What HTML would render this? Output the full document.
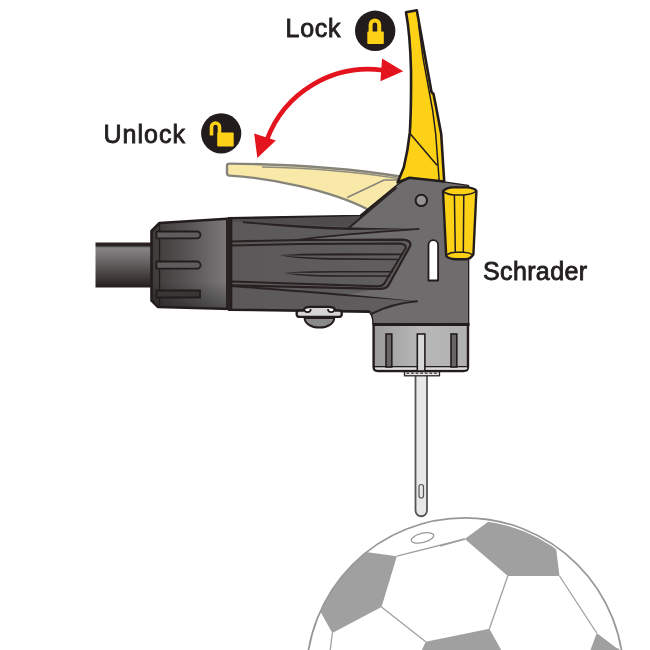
<!DOCTYPE html>
<html><head><meta charset="utf-8">
<style>
html,body{margin:0;padding:0;background:#fff;width:650px;height:650px;overflow:hidden}
svg{display:block;will-change:transform}
text{font-family:"Liberation Sans",sans-serif;fill:#231f20;stroke:#231f20;stroke-width:0.85}
</style></head>
<body>
<svg width="650" height="650" viewBox="0 0 650 650">
<defs>
<linearGradient id="hose" x1="0" y1="0" x2="0" y2="1">
<stop offset="0" stop-color="#2a2222"/><stop offset="0.07" stop-color="#2a2222"/><stop offset="0.12" stop-color="#878585"/><stop offset="0.55" stop-color="#595656"/><stop offset="1" stop-color="#251d1d"/>
</linearGradient>
<linearGradient id="collar" x1="0" y1="0" x2="1" y2="0">
<stop offset="0" stop-color="#3e3a3a"/><stop offset="0.45" stop-color="#555353"/><stop offset="1" stop-color="#7e7c7c"/>
</linearGradient>
<linearGradient id="collarv" x1="0" y1="0" x2="0" y2="1">
<stop offset="0" stop-color="#000" stop-opacity="0"/><stop offset="0.7" stop-color="#000" stop-opacity="0"/><stop offset="1" stop-color="#000" stop-opacity="0.35"/>
</linearGradient>
<linearGradient id="cap" x1="0" y1="0" x2="1" y2="0">
<stop offset="0" stop-color="#9a9a9a"/><stop offset="0.5" stop-color="#b8b8b8"/><stop offset="1" stop-color="#b0b0b0"/>
</linearGradient>
<linearGradient id="grip" x1="0" y1="0" x2="1" y2="0">
<stop offset="0" stop-color="#5a5858"/><stop offset="1" stop-color="#626060"/>
</linearGradient>
<filter id="soft" x="-10%" y="-10%" width="120%" height="120%"><feGaussianBlur stdDeviation="3"/></filter>
<clipPath id="ballclip"><circle cx="465" cy="676.5" r="156.6"/></clipPath>
<clipPath id="ballclip2"><circle cx="465" cy="676.5" r="158.3"/></clipPath>
</defs>

<!-- ball -->
<g clip-path="url(#ballclip2)">
<polygon fill="#a0a0a0" points="340,548.4 396.9,556.2 381.5,606.9 332.3,633 305,583.9"/>
</g>
<g clip-path="url(#ballclip)">
<polygon fill="#a0a0a0" points="464.8,539 500,513 520,505 553.5,527.6 559.5,576 507.8,576"/>
<polygon fill="#a0a0a0" points="425.7,641.7 489.4,628.8 502.3,652 421,652"/>
<polygon fill="#a0a0a0" points="596.7,633 616.8,648.2 640,652 589.8,652"/>
</g>
<g stroke="#a0a0a0" stroke-width="1.3" fill="none">
<line x1="396.9" y1="556.2" x2="464.8" y2="539"/>
<line x1="381.5" y1="606.9" x2="425.7" y2="641.7"/>
<line x1="332.3" y1="633" x2="330" y2="652"/>
<line x1="507.8" y1="576" x2="489.4" y2="628.8"/>
<line x1="559.5" y1="576" x2="596.7" y2="633"/>
<line x1="464.8" y1="539" x2="440" y2="546"/>
</g>
<circle cx="465" cy="676.5" r="158.7" fill="none" stroke="#979797" stroke-width="1.7"/>
<ellipse cx="422.5" cy="537.9" rx="11.5" ry="4.6" fill="none" stroke="#9a9a9a" stroke-width="1.3" transform="rotate(-14 422.5 537.9)"/>

<!-- needle -->
<path d="M415.5,372 L415.5,510.5 A5.75,5.75 0 0 0 427,510.5 L427,372 Z" fill="#e8e8e8" stroke="#555" stroke-width="1.8"/>
<rect x="419" y="484.5" width="4.5" height="13.5" rx="2.2" fill="none" stroke="#555" stroke-width="1.2"/>
<rect x="404.5" y="370.8" width="35" height="5" fill="#e4e4e4" stroke="#2e2828" stroke-width="1.3"/>
<path d="M406.5,373.3 H438" stroke="#555" stroke-width="1.6" stroke-dasharray="2.6 2"/>

<!-- hose -->
<rect x="95.5" y="242.5" width="58" height="45" fill="url(#hose)"/>

<!-- beige unlocked lever -->
<path d="M227,165.5 Q227,163.6 229.5,163.6 C300,164.3 350,168.5 400,176.5 L405,181 L368,209.5 C330,190 270,178 229.5,175.6 Q227,175.5 227,173 Z" fill="#f8e9a8" stroke="#86847a" stroke-width="2.4" stroke-linejoin="round"/>
<path d="M347.2,197.5 L384.1,180 L400,180" fill="none" stroke="#86847a" stroke-width="1.6"/>
<path d="M262,167 C310,168 355,171.5 398,178.5" fill="none" stroke="#8f8d82" stroke-width="1.3"/>

<!-- main body silhouette -->
<path d="M229,218.3 L360.4,216 L398,185 L409.4,177.7 L444,182.6 L468,186 L468,324.5 L373.6,324.5 Q373.5,313.5 369,311.6 L229,309.7 Z" fill="url(#grip)" stroke="#231c1c" stroke-width="2.6" stroke-linejoin="round"/>
<!-- lighter head -->
<path d="M231,219.5 L360.4,216 L349.4,227 L242.8,222 L231,222 Z" fill="#4e4c4c"/>
<path d="M349.4,227.5 L398,185 L409.4,177.7 L444,182.6 L468,186 L468,324.5 L373.6,324.5 Q373.5,314 370.5,312.5 Q392,302.5 418.2,301.2 L345,295 L380,288.8 Q385.5,288.8 388,286 L410.3,245.8 Q411.5,239.8 402,239.6 L300,240 Q340,234.5 418.8,228.9 Z" fill="#6e6c6c"/>
<!-- grooves -->
<g fill="#2a2222" stroke="none">
<path d="M242.8,221.3 Q300,226 349.4,227.4 L418.8,228.9 L349.4,230 Q300,228.8 242.8,223 Z"/>
<path d="M279.5,255.2 Q300,253.2 340,253.2 L401.7,253.5 L401,255.2 L340,255.5 Q300,255.5 279.5,255.2 Z"/>
<path d="M279.5,255.2 Q300,257.5 340,258 L398.6,258.8 L397.5,260.2 L340,259.8 Q300,259.5 279.5,255.2 Z"/>
<path d="M283.2,272.8 Q300,271 340,271 L393.4,271 L392.5,272.6 L340,272.6 Q300,273 283.2,272.8 Z"/>
<path d="M283.2,272.8 Q300,275 340,275.2 L390.8,275.2 L390,276.8 L340,276.8 Q300,277 283.2,272.8 Z"/>
<path d="M231,285 Q300,290 345,294 L418.2,301.2 Q392,304 370,314 Q392,302.5 416,301.2 L345,296 Q300,292 231,287 Z"/>
</g>
<g stroke="#2a2222" fill="none" stroke-linecap="round">
<path d="M231,241.5 L300,240 L402,239.6 Q411.5,239.8 410.3,245.8 L388,286 Q385.5,288.8 380,288.8 L231,285.3" stroke-width="2.2"/>
<path d="M231,245.5 L300,244 L399,243.6 Q407,244 405.5,248.4 L384,284 Q382,286.2 377,286.2 L231,281.5" stroke-width="2"/>
<path d="M296,240 Q340,234.5 418.8,228.9" stroke-width="1.6"/>
<path d="M349.4,227.5 L396,188" stroke-width="2"/>
<path d="M417,301.3 Q392,303.5 371,314" stroke-width="2"/>
</g>
<!-- hole & slot -->
<circle cx="421.3" cy="200.4" r="5.7" fill="#939393" stroke="#231c1c" stroke-width="2"/>
<path d="M428.5,280.5 L428.5,245 A4.8,4.8 0 0 1 438.1,245 L438.1,280.5 Z" fill="#fff" stroke="#231c1c" stroke-width="1.8" stroke-linejoin="round"/>

<!-- collar -->
<path d="M159.5,223 L231,218.5 L231,309 L158,307 L151.5,300.5 L151.5,231 Z" fill="url(#collar)"/>
<path d="M159.5,223 L231,218.5 L231,309 L158,307 L151.5,300.5 L151.5,231 Z" fill="url(#collarv)" stroke="#231c1c" stroke-width="2.6" stroke-linejoin="round"/>
<line x1="159.5" y1="224" x2="159.5" y2="306" stroke="#231c1c" stroke-width="1.4"/>
<rect x="226" y="218.5" width="5" height="91" fill="#2a2222"/>
<g fill="#5e5c5c" stroke="#231c1c" stroke-width="1.8">
<path d="M156.5,231.5 H197 A3.4,3.4 0 0 1 197,238.3 H156.5 Z"/>
<path d="M156.5,261.5 H197 A3.6,3.6 0 0 1 197,268.7 H156.5 Z"/>
<path d="M156.5,290.5 H200 V297.5 H156.5 Z" fill="#3a3636"/>
</g>

<!-- button under -->
<path d="M304.6,318 A14.8,9.6 0 0 0 334.2,318 Z" fill="#8a8a8a" stroke="#231c1c" stroke-width="2"/>
<path d="M299,310.5 H303.7 Q304,306.8 310,306.8 H329 Q335,306.8 335.3,310.5 H339.5 Q341.8,310.5 341.8,313.5 Q341.8,316.8 339.5,316.8 H299 Q296.6,316.8 296.6,313.5 Q296.6,310.5 299,310.5 Z" fill="#d6d6d6" stroke="#231c1c" stroke-width="2.3" stroke-linejoin="round"/>
<path d="M304.3,309 A3.2,3.2 0 0 0 310.7,309 M328,309 A3.2,3.2 0 0 0 334.4,309" fill="#fff" stroke="#231c1c" stroke-width="1.8"/>

<!-- cap -->
<path d="M373.6,324.5 L468,324.5 L468,367 Q468,371 463.5,371 L378,371 Q373.6,371 373.6,367 Z" fill="url(#cap)" stroke="#231c1c" stroke-width="2.4"/>
<path d="M375,367.3 H467.2 V368.5 Q467,369.8 464,369.8 H378 Q375,369.8 375,368.5 Z" fill="#dcdcdc"/>
<line x1="374" y1="366.6" x2="468" y2="366.6" stroke="#231c1c" stroke-width="1.2"/>
<line x1="373" y1="324.5" x2="469.5" y2="324.5" stroke="#231c1c" stroke-width="3"/>
<g stroke="#231c1c" stroke-width="1.6">
<rect x="386" y="334" width="5.8" height="33" fill="#666"/>
<rect x="417.3" y="334" width="7.6" height="37" fill="#d8d8d8"/>
<rect x="451" y="334" width="5.8" height="33" fill="#666"/>
</g>

<!-- yellow lever -->
<path d="M406,12.3 L416.8,10.3 L431.5,92 L433.5,94 L435.7,105 L441.2,134 L444.2,181.5 L409.4,177.7 L397.6,182.5 Q402,172 403.8,167.3 Q408,150 409.8,132.7 Q411.3,110 411,70 Q410.2,35 406,12.3 Z" fill="#fcd116" stroke="#231c1c" stroke-width="2.6" stroke-linejoin="round"/>
<path d="M418.5,24 L423,58 L432.6,110 L435.7,134 L439.2,181 M410,133.4 L437,165.2" fill="none" stroke="#231c1c" stroke-width="1.5"/>

<!-- schrader knob -->
<path d="M443,191 Q446.5,187.6 453,187.4 L467,187.4 Q474,187.8 476.4,190.8 L473.4,254.5 Q470,259.2 465.8,259.2 L455.4,259.2 Q449,259 446.2,256 Z" fill="#fcd116" stroke="#231c1c" stroke-width="2.4" stroke-linejoin="round"/>
<path d="M454.4,195 L455.3,253 M463.8,195 L463.3,253 M443.3,191.4 Q447,194.6 454.4,195 L463.8,195 Q471,194.6 476,191.4 M446.5,255.3 Q450,252.3 455.3,252.3 L463.3,252.3 Q469,252.3 473,254.8" fill="none" stroke="#231c1c" stroke-width="1.5"/>

<!-- arrow -->
<path d="M383,70.2 A108.5,108.5 0 0 0 266.8,140" fill="none" stroke="#e3141e" stroke-width="4.6"/>
<polygon points="403.2,71.2 382.1,58.5 380.4,81.3" fill="#e3141e"/>
<polygon points="257.3,158.1 254.2,133.5 275.8,140.4" fill="#e3141e"/>

<!-- lock icons -->
<circle cx="375.2" cy="30.8" r="20.2" fill="#231c1c"/>
<path d="M370.6,32 V24.7 A4.3,4.3 0 0 1 379.2,24.7 V32" fill="none" stroke="#fcd116" stroke-width="4"/>
<rect x="367.3" y="31.4" width="16.5" height="12.6" rx="1" fill="#fcd116"/>
<circle cx="221.2" cy="133.4" r="20.1" fill="#231c1c"/>
<path d="M211.5,135.5 V127 A4,4 0 0 1 219.5,127 V133" fill="none" stroke="#fcd116" stroke-width="3.6"/>
<rect x="217.2" y="132.6" width="16.5" height="13.9" rx="1" fill="#fcd116"/>

<!-- labels -->
<text x="285.5" y="37" font-size="25" textLength="55" lengthAdjust="spacing">Lock</text>
<text x="103.5" y="143" font-size="25" textLength="81.5" lengthAdjust="spacing">Unlock</text>
<text x="483" y="280" font-size="25" textLength="104" lengthAdjust="spacing">Schrader</text>
</svg>
</body></html>
